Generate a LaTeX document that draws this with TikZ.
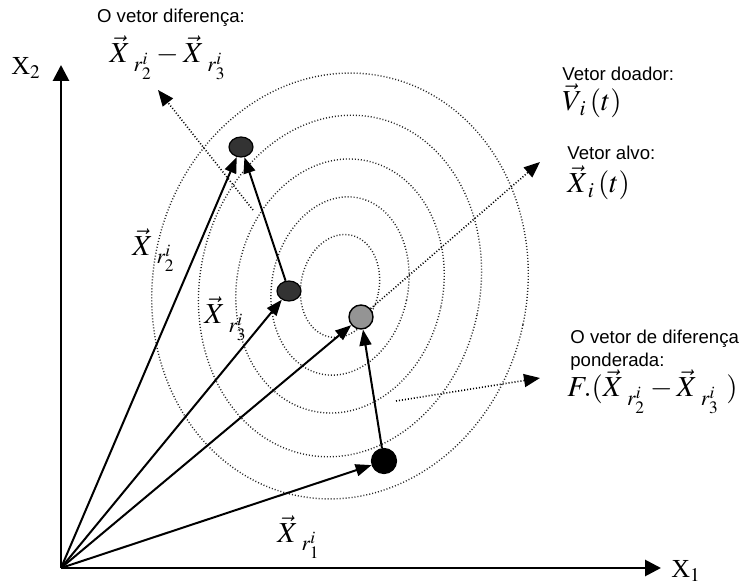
\documentclass[tikz,border=0pt]{standalone}
\usepackage{mathptmx}
\usepackage[no-math]{fontspec}
\setmainfont{Liberation Serif}
\newfontfamily\arialf{Liberation Sans}
\usetikzlibrary{arrows.meta,shapes.geometric}
\newcommand{\myXr}[1]{\vec{X}_{\mkern6mu r_{#1}^{i}}}
\begin{document}
\begin{tikzpicture}[x=0.5pt,y=-0.5pt,
  axis/.style={line width=1.4pt,-{Triangle[length=8pt,width=8pt]}},
  vec/.style={line width=1pt,-{Triangle[length=8pt,width=6pt]}},
  dotvec/.style={line width=0.8pt,dash pattern=on 0.5pt off 1pt,-{Triangle[length=8pt,width=6.5pt]}},
  contour/.style={line width=0.7pt,dash pattern=on 0.5pt off 1pt,black!85},
  darkdot/.style={ellipse,draw,line width=0.6pt,fill=black!80,minimum width=12pt,minimum height=10pt,inner sep=0pt},
  graydot/.style={circle,draw,line width=0.7pt,fill=black!42,minimum size=12pt,inner sep=0pt},
  blackdot/.style={circle,draw,line width=0.6pt,fill=black,minimum size=12.5pt,inner sep=0pt},
  lbl/.style={font=\arialf\fontsize{9.3}{11.5}\selectfont,inner sep=0pt},
  mth/.style={font=\fontsize{14.5}{16}\selectfont,inner sep=0pt},
  axlbl/.style={font=\fontsize{13}{14}\selectfont,inner sep=0pt}]
\useasboundingbox (0,0) rectangle (741,583);
% contour ellipses
\coordinate (E) at (340,286);
\begin{scope}[rotate around={-12:(E)}]
  \draw[contour] (E) ellipse [x radius=39, y radius=52];
  \draw[contour] (E) ellipse [x radius=68, y radius=90];
  \draw[contour] (E) ellipse [x radius=103, y radius=128];
  \draw[contour] (E) ellipse [x radius=140, y radius=172];
  \draw[contour] (E) ellipse [x radius=187, y radius=214];
\end{scope}
% axes
\coordinate (O) at (61,568);
\coordinate (Ytip) at (61,65);
\coordinate (Xtip) at (661,568);
\draw[axis] (O) -- (Ytip);
\draw[axis] (O) -- (Xtip);
\node[axlbl] (x2) at (26,68) {X$_2$};
\node[axlbl] (x1) at (686,571) {X$_1$};
% points
\node[darkdot] (A) at (241,147) {};
\node[darkdot] (B) at (289,291) {};
\node[graydot] (C) at (361,317) {};
\node[blackdot] (D) at (384,461) {};
% vectors
\draw[vec] (O) -- (A);
\draw[vec] (O) -- (B);
\draw[vec] (O) -- (C);
\draw[vec] (O) -- (D);
\draw[vec] (B) -- (A);
\draw[vec] (D) -- (C);
% dotted arrows
\coordinate (d1s) at (253,210);
\coordinate (d1e) at (158,90);
\draw[dotvec] (d1s) -- (d1e);
\coordinate (d2e) at (540,162);
\draw[dotvec] (C) -- (d2e);
\coordinate (d3s) at (396,401);
\coordinate (d3e) at (540,378);
\draw[dotvec] (d3s) -- (d3e);
% labels
\node[lbl] (tdiff) at (171,18) {O vetor diferença:};
\node[mth] (mdiff) at (168,58) {$\myXr{2}-\myXr{3}$};
\node[lbl,anchor=west] (tdoa) at (562,74) {Vetor doador:};
\node[mth,anchor=west] (mdoa) at (562,101) {$\vec{V}_{\mkern2mu i}\mkern2mu(t)$};
\node[lbl,anchor=west] (talvo) at (567,153) {Vetor alvo:};
\node[mth,anchor=west] (malvo) at (567,183) {$\vec{X}_{\mkern3mu i}\mkern2mu(t)$};
\node[lbl,anchor=north west,align=left] (tpond) at (570,330) {O vetor de diferença\\ponderada:};
\node[mth,anchor=west] (mF) at (567,392) {$F.(\myXr{2}-\myXr{3}\mkern4mu)$};
\node[mth] (lr2) at (154,250) {$\myXr{2}$};
\node[mth] (lr3) at (226,319) {$\myXr{3}$};
\node[mth] (lr1) at (299,537) {$\myXr{1}$};
\end{tikzpicture}
\end{document}
